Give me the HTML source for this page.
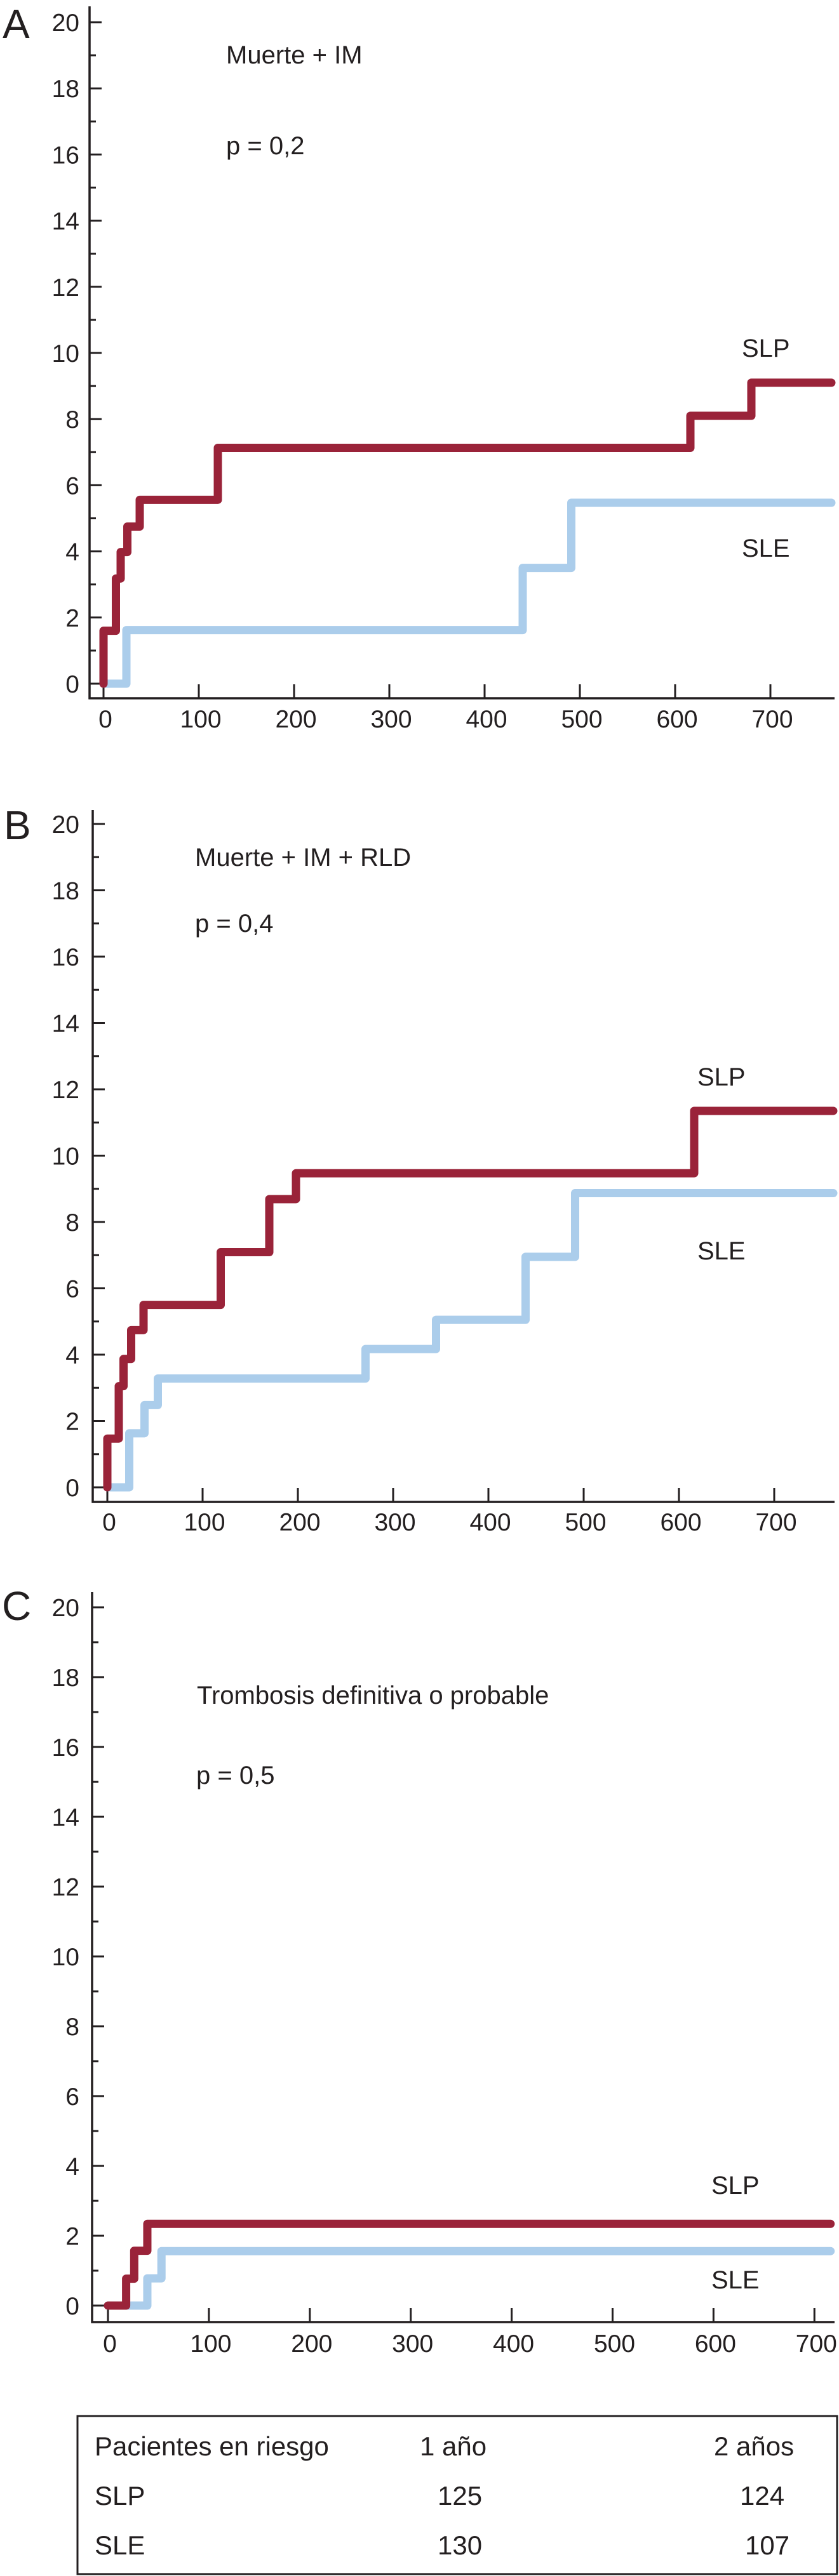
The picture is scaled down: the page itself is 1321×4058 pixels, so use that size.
<!DOCTYPE html>
<html><head><meta charset="utf-8">
<style>
html,body{margin:0;padding:0;background:#fff;}
svg{display:block;font-family:"Liberation Sans",Arial,sans-serif;}
</style></head>
<body>
<svg id="fig" width="1321" height="4058" viewBox="0 0 1321 4058" xmlns="http://www.w3.org/2000/svg">
<g id="table">
<rect x="122" y="3806" width="1196" height="249" fill="none" stroke="#231f20" stroke-width="3"/>
<text x="149" y="3868" font-size="42" fill="#231f20">Pacientes en riesgo</text>
<text x="661" y="3868" font-size="42" fill="#231f20">1 año</text>
<text x="1124" y="3868" font-size="42" fill="#231f20">2 años</text>
<text x="149" y="3946" font-size="42" fill="#231f20">SLP</text>
<text x="689" y="3946" font-size="42" fill="#231f20">125</text>
<text x="1165" y="3946" font-size="42" fill="#231f20">124</text>
<text x="149" y="4024" font-size="42" fill="#231f20">SLE</text>
<text x="689" y="4024" font-size="42" fill="#231f20">130</text>
<text x="1173" y="4024" font-size="42" fill="#231f20">107</text>
</g>
</svg>
<script>
// Panel A data (days, cumulative %)
const aSlpX = [0, 13, 18, 25, 38, 120, 616, 680, 764];
const aSlpY = [1.6, 3.18, 3.98, 4.75, 5.56, 7.13, 8.1, 9.1];
const aSleX = [0, 24, 440, 491, 764];
const aSleY = [0, 1.62, 3.5, 5.47];
// Panel B data
const bSlpX = [0, 12, 17, 25, 38, 119, 170, 198, 616, 762];
const bSlpY = [1.47, 3.05, 3.87, 4.74, 5.5, 7.09, 8.69, 9.47, 11.35];
const bSleX = [0, 23, 39, 53, 271, 345, 439, 491, 762];
const bSleY = [0, 1.63, 2.48, 3.28, 4.17, 5.05, 6.95, 8.87];
// Panel C data
const cSlpX = [0, 18, 26, 39, 716];
const cSlpY = [0, 0.77, 1.57, 2.34];
const cSleX = [0, 39, 53, 716];
const cSleY = [0, 0.78, 1.56];
// Axis tick labels
const yTicks = [0, 2, 4, 6, 8, 10, 12, 14, 16, 18, 20];
const xTicks = [0, 100, 200, 300, 400, 500, 600, 700];

const NS = "http://www.w3.org/2000/svg";
const svg = document.getElementById('fig');
const INK = "#231f20", RED = "#9a2339", BLUE = "#abcdeb";

function mk(tag, attrs, parent) {
  const e = document.createElementNS(NS, tag);
  for (const k in attrs) e.setAttribute(k, attrs[k]);
  (parent || svg).appendChild(e);
  return e;
}

function panel(cfg) {
  const g = mk('g', {});
  
  
  const sx = d => cfg.x0 + d * cfg.ppd;
  const sy = v => cfg.y0 - v * cfg.ppu;
  const L = mk('text', {x: cfg.lx, y: cfg.ly, 'font-size': 64, fill: INK}, g);
  L.textContent = cfg.letter;
  
  
  const ya = mk('line', {x1: cfg.ax, y1: cfg.top, x2: cfg.ax, y2: cfg.xAxisY + 1.5, stroke: INK, 'stroke-width': 3.5}, g);
  
  
  const xa = mk('line', {x1: cfg.ax - 1.5, y1: cfg.xAxisY, x2: cfg.xEnd, y2: cfg.xAxisY, stroke: INK, 'stroke-width': 3.5}, g);
  
  
  for (let v = 0; v <= 20; v++) {
    const major = v % 2 === 0;
    const t = mk('line', {x1: cfg.ax, y1: sy(v), x2: cfg.ax + (major ? 19 : 10), y2: sy(v), stroke: INK, 'stroke-width': 3}, g);
    
    
  }
  yTicks.forEach(v => {
    const t = mk('text', {x: 125, y: sy(v) + 14, 'font-size': 39, 'text-anchor': 'end', fill: INK}, g);
    t.textContent = v;
    
    
  });
  xTicks.forEach(d => {
    const t = mk('line', {x1: sx(d), y1: cfg.xAxisY, x2: sx(d), y2: cfg.xAxisY - 22, stroke: INK, 'stroke-width': 3}, g);
    
    
    const l = mk('text', {x: sx(d) + 3, y: cfg.xLabY + 14, 'font-size': 39, 'text-anchor': 'middle', fill: INK}, g);
    l.textContent = d;
    
    
  });
  function step(xs, ys, color, name) {
    let d = 'M' + sx(xs[0]) + ' ' + sy(0);
    for (let i = 0; i < ys.length; i++) {
      d += ' L' + sx(xs[i]) + ' ' + sy(ys[i]) + ' L' + sx(xs[i + 1]) + ' ' + sy(ys[i]);
    }
    const p = mk('path', {d: d, fill: 'none', stroke: color, 'stroke-width': 13, 'stroke-linejoin': 'round', 'stroke-linecap': 'round'}, g);
    
    
  }
  step(cfg.sleX, cfg.sleY, BLUE, 'sle-curve-' + cfg.id);
  step(cfg.slpX, cfg.slpY, RED, 'slp-curve-' + cfg.id);
  cfg.texts.forEach(tx => {
    const t = mk('text', {x: tx[0], y: tx[1], 'font-size': tx[3], fill: INK}, g);
    t.textContent = tx[2];
    
    
  });
}

panel({id: 'a', letter: 'A', lx: 4, ly: 60, ax: 141, top: 10, y0: 1077, ppu: 52.1, x0: 163, ppd: 1.5,
  xAxisY: 1100, xLabY: 1132, xEnd: 1314,
  slpX: aSlpX, slpY: aSlpY, sleX: aSleX, sleY: aSleY,
  texts: [[356, 100, 'Muerte + IM', 40, 'title-a'], [356, 243, 'p = 0,2', 40, 'p-value-a'],
          [1168, 562, 'SLP', 40, 'label-slp-a'], [1168, 877, 'SLE', 40, 'label-sle-a']]});
panel({id: 'b', letter: 'B', lx: 6, ly: 1322, ax: 146, top: 1276, y0: 2343, ppu: 52.25, x0: 169, ppd: 1.5,
  xAxisY: 2366, xLabY: 2397, xEnd: 1314,
  slpX: bSlpX, slpY: bSlpY, sleX: bSleX, sleY: bSleY,
  texts: [[307, 1364, 'Muerte + IM + RLD', 40, 'title-b'], [307, 1468, 'p = 0,4', 40, 'p-value-b'],
          [1098, 1710, 'SLP', 40, 'label-slp-b'], [1098, 1984, 'SLE', 40, 'label-sle-b']]});
panel({id: 'c', letter: 'C', lx: 3, ly: 2552, ax: 145, top: 2508, y0: 3632, ppu: 55, x0: 170, ppd: 1.589,
  xAxisY: 3658, xLabY: 3691, xEnd: 1314,
  slpX: cSlpX, slpY: cSlpY, sleX: cSleX, sleY: cSleY,
  texts: [[310, 2684, 'Trombosis definitiva o probable', 40, 'title-c'], [309, 2810, 'p = 0,5', 40, 'p-value-c'],
          [1120, 3456, 'SLP', 40, 'label-slp-c'], [1120, 3605, 'SLE', 40, 'label-sle-c']]});
</script>
</body></html>
